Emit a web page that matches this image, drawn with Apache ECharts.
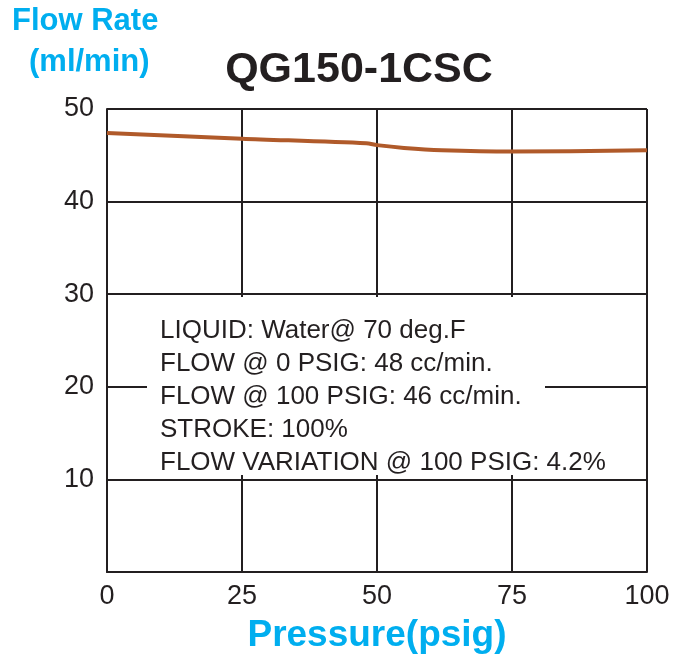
<!DOCTYPE html>
<html>
<head>
<meta charset="utf-8">
<script src="https://cdn.jsdelivr.net/npm/echarts@6/dist/echarts.min.js"></script>
<style>
  html, body { margin: 0; padding: 0; background: #fff; }
  #chart { width: 700px; height: 658px; }
</style>
</head>
<body>
<div id="chart"></div>
<script>
// pressure (psig) vs flow rate (ml/min)
var pressure = [0, 25, 48, 50, 55, 62, 75, 100];
var flowRate = [47.4, 46.8, 46.3, 46.1, 45.8, 45.55, 45.4, 45.55];
var notes = [
  'LIQUID: Water@ 70 deg.F',
  'FLOW @ 0 PSIG: 48 cc/min.',
  'FLOW @ 100 PSIG: 46 cc/min.',
  'STROKE: 100%',
  'FLOW VARIATION @ 100 PSIG: 4.2%'
];

var chart = echarts.init(document.getElementById('chart'));
var lineColor = '#231f20';
var blue = '#00aeef';

var option = {
  animation: false,
  textStyle: { fontFamily: 'Liberation Sans' },
  title: {
    text: 'QG150-1CSC',
    left: 354,
    top: 44,
    textAlign: 'center',
    textStyle: { fontSize: 43, fontWeight: 'bold', color: '#231f20', fontFamily: 'Liberation Sans' }
  },
  grid: { left: 107, right: 53, top: 109, bottom: 86, containLabel: false, outerBoundsMode: 'none' },
  xAxis: {
    type: 'value',
    min: 0, max: 100, interval: 25,
    name: 'Pressure(psig)',
    nameLocation: 'middle',
    nameGap: 45,
    nameTextStyle: { color: blue, fontSize: 37, fontWeight: 'bold' },
    axisLine: { show: true, lineStyle: { color: lineColor, width: 2 } },
    axisTick: { show: false },
    axisLabel: { color: '#231f20', fontSize: 27, margin: 11 },
    splitLine: { show: true, lineStyle: { color: lineColor, width: 2 } }
  },
  yAxis: {
    type: 'value',
    min: 0, max: 50, interval: 10,
    axisLine: { show: true, lineStyle: { color: lineColor, width: 2 } },
    axisTick: { show: false },
    axisLabel: {
      color: '#231f20', fontSize: 27, margin: 13,
      formatter: function (v) { return v === 0 ? '' : v; }
    },
    splitLine: { show: true, lineStyle: { color: lineColor, width: 2 } }
  },
  graphic: [
    {
      type: 'text', z: 100, left: 12, top: 6,
      style: { text: 'Flow Rate', fill: blue, font: 'bold 31px "Liberation Sans"' }
    },
    {
      type: 'text', z: 100, left: 29, top: 47,
      style: { text: '(ml/min)', fill: blue, font: 'bold 31px "Liberation Sans"' }
    },
    {
      type: 'rect', z: 100, left: 147, top: 297,
      shape: { width: 398, height: 178 },
      style: { fill: '#fff' }
    },
    {
      type: 'text', z: 101, left: 160, top: 314,
      style: {
        text: notes.join('\n'),
        fill: '#231f20',
        font: '26px "Liberation Sans"',
        lineHeight: 33
      }
    }
  ],
  series: [{
    type: 'line',
    data: pressure.map(function (p, i) { return [p, flowRate[i]]; }),
    smooth: 0.3,
    showSymbol: false,
    lineStyle: { color: '#b05a2a', width: 4 }
  }]
};

chart.setOption(option);
</script>
</body>
</html>
